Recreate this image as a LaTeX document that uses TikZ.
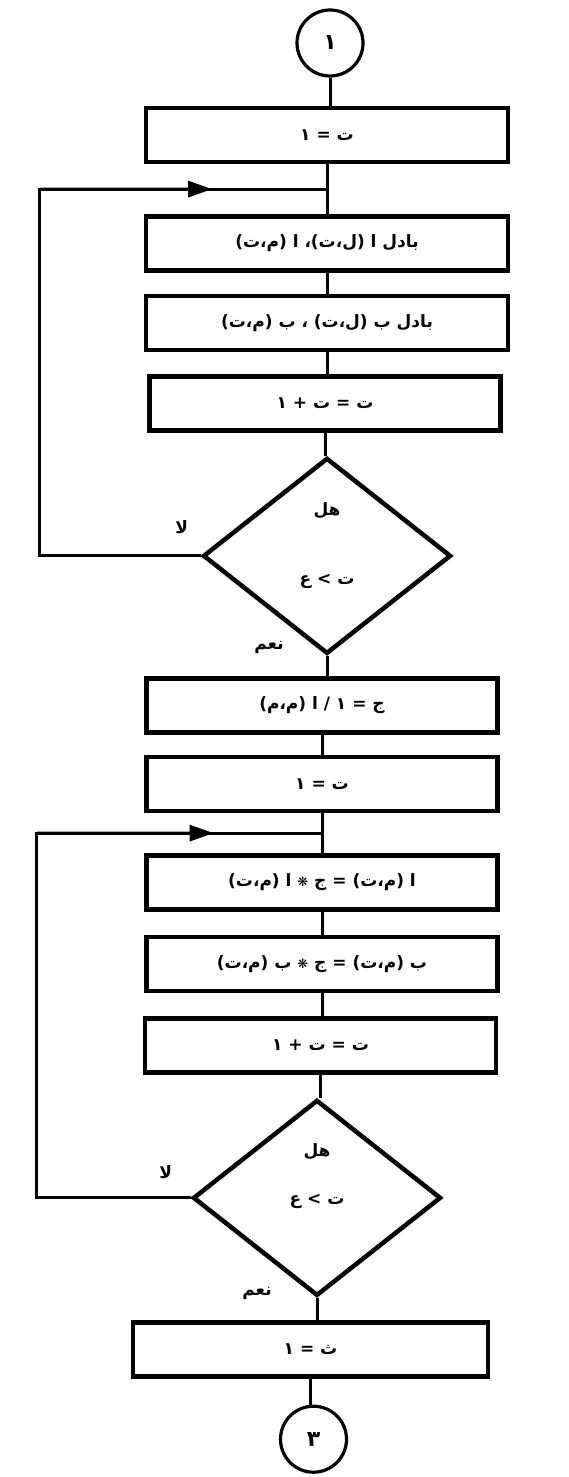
\documentclass[tikz,border=0pt]{standalone}
\usepackage{fontspec}
\usetikzlibrary{positioning,arrows.meta,shapes.geometric,calc}
\TeXXeTstate=1
\newfontfamily\arabicfont[Script=Arabic, BoldFont={DejaVu Sans Bold}]{DejaVu Sans}
\newfontfamily\symfont{DejaVu Sans}
\newcommand{\artxt}[1]{\beginR #1\endR}
\newcommand{\startimes}{{\symfont\bfseries\fontsize{13}{13}\selectfont ❋}}
\tikzset{
  flow/box/.style={draw, line width=4.5pt, minimum width=351pt, minimum height=54pt,
                   inner sep=2pt, font=\arabicfont\bfseries\fontsize{17}{19}\selectfont},
  flow/wide box/.style={flow/box, minimum width=362pt},
  flow/test/.style={draw, diamond, line width=4.5pt, minimum width=248pt,
                    minimum height=196pt, inner sep=0pt},
  flow/conn/.style={draw, circle, line width=3.2pt, minimum size=66pt, inner sep=0pt,
                    font=\arabicfont\bfseries\fontsize{22}{24}\selectfont},
  flow/line/.style={line width=3pt},
  flow/arrow/.style={flow/line, -{Triangle[length=24pt,width=16pt]}},
  flow/lbl/.style={font=\arabicfont\bfseries\fontsize{17}{19}\selectfont, inner sep=1pt},
}
\begin{document}
\begin{tikzpicture}[x=1pt, y=1pt]
  \useasboundingbox (0,0) rectangle (568,-1477);

  % ---------------- first loop: swap rows ----------------
  \node[flow/conn] (start) at (330,-43) {\artxt{١}};
  \node[flow/wide box, below=28pt of start, xshift=-3pt] (init1) {\artxt{ت = ١}};
  \node[flow/wide box, below=50pt of init1] (swapA) {\artxt{بادل ا (ل،ت)، ا (م،ت)}};
  \node[flow/wide box, below=21pt of swapA] (swapB) {\artxt{بادل ب (ل،ت) ، ب (م،ت)}};
  \node[flow/box, below=22pt of swapB, xshift=-2pt] (incr1) {\artxt{ت = ت + ١}};
  \node[flow/test, below=23pt of incr1, xshift=2pt] (test1) {};
  \node[flow/lbl] (ask1) at ([yshift=-55pt]test1.north) {\artxt{هل}};
  \node[flow/lbl] (cond1) at ([yshift=-26pt]test1.center) {\artxt{ت > ع}};
  \node[flow/lbl] (no1) at ([xshift=-19pt, yshift=29pt]test1.west) {\artxt{لا}};
  \node[flow/lbl] (yes1) at ([xshift=-58pt, yshift=9pt]test1.south) {\artxt{نعم}};

  % ---------------- second loop: scale pivot row ----------------
  \node[flow/box, below=20pt of test1, xshift=-5pt] (recip) {\artxt{ج = ١ / ا (م،م)}};
  \node[flow/box, below=20pt of recip] (init2) {\artxt{ت = ١}};
  \node[flow/box, below=40pt of init2] (scaleA) {\artxt{ا (م،ت) = ج \startimes\ ا (م،ت)}};
  \node[flow/box, below=23pt of scaleA] (scaleB) {\artxt{ب (م،ت) = ج \startimes\ ب (م،ت)}};
  \node[flow/box, below=23pt of scaleB, xshift=-1.5pt] (incr2) {\artxt{ت = ت + ١}};
  \node[flow/test, below=23pt of incr2, xshift=-3.5pt] (test2) {};
  \node[flow/lbl] (ask2) at ([yshift=-54pt]test2.north) {\artxt{هل}};
  \node[flow/lbl] (cond2) at ([yshift=-4pt]test2.center) {\artxt{ت > ع}};
  \node[flow/lbl] (no2) at ([xshift=-25pt, yshift=26pt]test2.west) {\artxt{لا}};
  \node[flow/lbl] (yes2) at ([xshift=-60pt, yshift=5pt]test2.south) {\artxt{نعم}};
  \node[flow/box, below=22pt of test2, xshift=-6.5pt, minimum width=355pt] (final) {\artxt{ث = ١}};
  \node[flow/conn, below=26pt of final, xshift=3pt] (stop) {\artxt{٣}};

  % ---------------- straight connectors ----------------
  \foreach \a/\b in {start/init1, init1/swapA, swapA/swapB, swapB/incr1, incr1/test1,
                     test1/recip, recip/init2, init2/scaleA, scaleA/scaleB,
                     scaleB/incr2, incr2/test2, test2/final, final/stop}
    \draw[flow/line] (\a.south) -- (\a.south |- \b.north);

  % ---------------- loop-back edges ----------------
  \coordinate (j1) at ($(init1.south)!0.5!(swapA.north)$);
  \coordinate (loop1) at ([xshift=-161pt]test1.west);
  \draw[flow/line] (test1.west) -- (loop1) |- (j1);
  \draw[flow/arrow] (loop1 |- j1) -- ($(loop1 |- j1)!0.6!(j1)$);

  \coordinate (j2) at ($(init2.south)!0.5!(scaleA.north)$);
  \coordinate (loop2) at ([xshift=-154pt]test2.west);
  \draw[flow/line] (test2.west) -- (loop2) |- (j2);
  \draw[flow/arrow] (loop2 |- j2) -- ($(loop2 |- j2)!0.62!(j2)$);

\end{tikzpicture}
\end{document}
